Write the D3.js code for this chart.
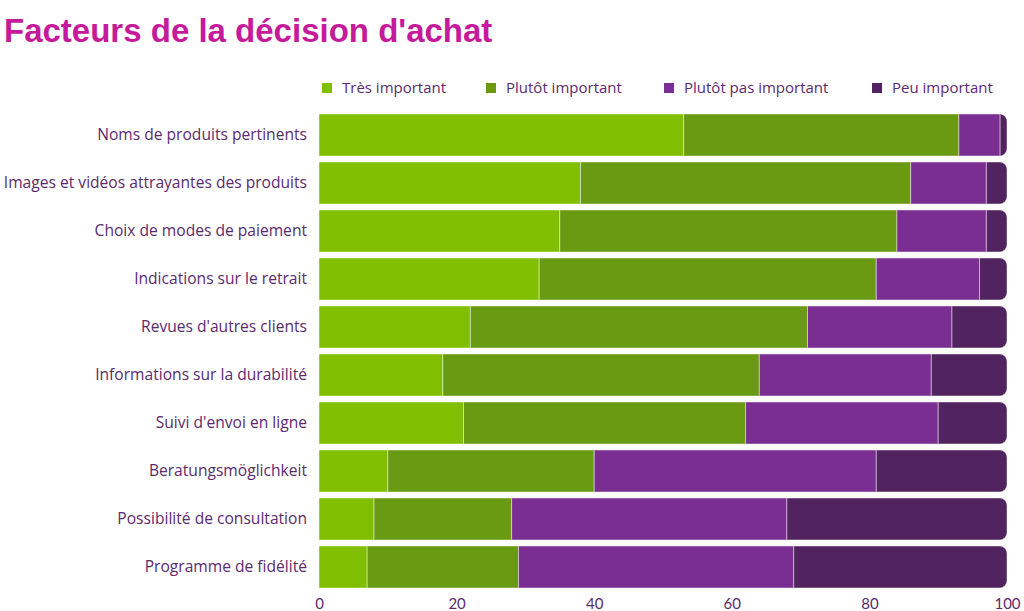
<!DOCTYPE html>
<html>
<head>
<meta charset="utf-8">
<script src="https://cdn.jsdelivr.net/npm/d3@7"></script>
<style>
	body { margin: 0; background: #fff; }
	svg { display: block; }
</style>
</head>
<body>
<div id="chart"></div>
<script>
const categories = [
	'Noms de produits pertinents',
	'Images et vidéos attrayantes des produits',
	'Choix de modes de paiement',
	'Indications sur le retrait',
	"Revues d'autres clients",
	'Informations sur la durabilité',
	"Suivi d'envoi en ligne",
	'Beratungsmöglichkeit',
	'Possibilité de consultation',
	'Programme de fidélité',
];
const seriesNames = [ 'Très important', 'Plutôt important', 'Plutôt pas important', 'Peu important' ];
const tresImportant = [ 53, 38, 35, 32, 22, 18, 21, 10, 8, 7 ];
const plutotImportant = [ 40, 48, 49, 49, 49, 46, 41, 30, 20, 22 ];
const plutotPas = [ 6, 11, 13, 15, 21, 25, 28, 41, 40, 40 ];
const peuImportant = [ 1, 3, 3, 4, 8, 11, 10, 19, 32, 31 ];
const xTicks = [ 0, 20, 40, 60, 80, 100 ];
const colors = [ '#7fbe00', '#6a9912', '#7a2e91', '#51235f' ];

const W = 1024;
const H = 611;
const margin = { top: 111, right: 17, bottom: 20, left: 319 };
const textColor = '#5b2a6e';

const svg = d3.select('#chart').append('svg').attr('width', W).attr('height', H);

svg
	.append('text')
	.attr('x', 4)
	.attr('y', 42)
	.attr('fill', '#c51a9a')
	.style('font-family', 'Liberation Sans, Arial, sans-serif')
	.style('font-weight', 'bold')
	.style('font-size', '33px')
	.text("Facteurs de la décision d'achat");

// legend
const legendX = [ 322, 486, 664, 872 ];
const legend = svg
	.selectAll('.legend')
	.data(seriesNames)
	.enter()
	.append('g')
	.attr('transform', (d, i) => `translate(${legendX[i]}, 88)`);
legend.append('rect').attr('x', 0).attr('y', -5).attr('width', 10).attr('height', 10).attr('fill', (d, i) => colors[i]);
legend
	.append('text')
	.attr('x', 20)
	.attr('y', 5)
	.attr('fill', textColor)
	.style('font-family', 'Open Sans, sans-serif')
	.style('font-size', '15px')
	.text((d) => d);

const x = d3.scaleLinear().domain([ 0, 100 ]).range([ margin.left, W - margin.right ]);
const y = d3
	.scaleBand()
	.domain(categories)
	.range([ margin.top, H - margin.bottom ])
	.paddingInner(0.125)
	.paddingOuter(0.0625);

const rows = categories.map((c, i) => {
	const vals = [ tresImportant[i], plutotImportant[i], plutotPas[i], peuImportant[i] ];
	let acc = 0;
	return {
		cat: c,
		segs: vals.map((v, k) => {
			const s = { x0: acc, x1: acc + v, k };
			acc += v;
			return s;
		}),
	};
});

const defs = svg.append('defs');
rows.forEach((r, i) => {
	defs
		.append('clipPath')
		.attr('id', 'clip' + i)
		.append('rect')
		.attr('x', x(0) - 20)
		.attr('y', y(r.cat))
		.attr('width', x(100) - x(0) + 20)
		.attr('height', y.bandwidth())
		.attr('rx', 8);
});

const rowG = svg
	.selectAll('.row')
	.data(rows)
	.enter()
	.append('g')
	.attr('clip-path', (d, i) => `url(#clip${i})`);

rowG
	.selectAll('rect')
	.data((d) => d.segs.map((s) => Object.assign({ cat: d.cat }, s)))
	.enter()
	.append('rect')
	.attr('x', (d) => x(d.x0))
	.attr('y', (d) => y(d.cat))
	.attr('width', (d) => x(d.x1) - x(d.x0))
	.attr('height', y.bandwidth())
	.attr('fill', (d) => colors[d.k])
	.attr('stroke', 'rgba(255,255,255,0.45)')
	.attr('stroke-width', 1);

// category labels
svg
	.selectAll('.cat')
	.data(categories)
	.enter()
	.append('text')
	.attr('x', margin.left - 12)
	.attr('y', (d) => y(d) + y.bandwidth() / 2)
	.attr('dy', '0.35em')
	.attr('text-anchor', 'end')
	.attr('fill', textColor)
	.style('font-family', 'Open Sans, sans-serif')
	.style('font-size', '15.6px')
	.text((d) => d);

// x axis
const xAxis = svg
	.append('g')
	.attr('transform', `translate(0, ${H - 17})`)
	.call(d3.axisBottom(x).tickValues(xTicks).tickSize(0).tickPadding(0));
xAxis.select('.domain').remove();
xAxis
	.selectAll('text')
	.attr('fill', textColor)
	.attr('dy', '0.35em')
	.attr('y', 10)
	.style('font-family', 'Lato, sans-serif')
	.style('font-size', '15px');
</script>
</body>
</html>
